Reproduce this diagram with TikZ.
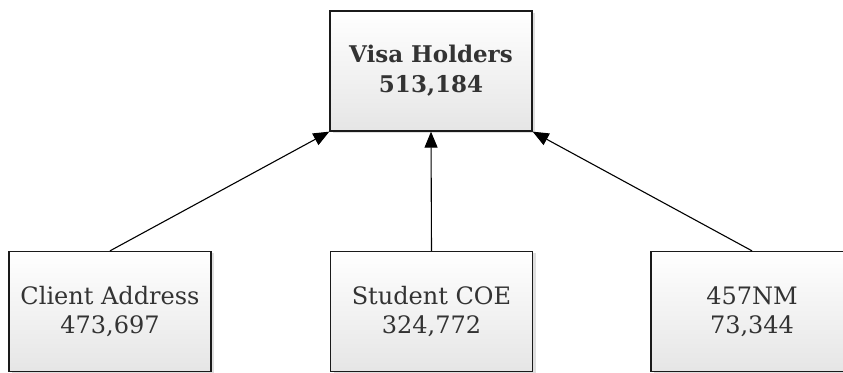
\documentclass[tikz,border=0pt]{standalone}
\usepackage{fontspec}
\setmainfont{DejaVu Serif}
\usetikzlibrary{arrows.meta,shadows}
\definecolor{txt}{HTML}{333333}
\definecolor{edge}{HTML}{1A1A1A}
\tikzset{
  box/.style={draw=edge, line width=1.3pt, top color=white, bottom color=black!10,
    minimum width=202pt, minimum height=120pt, inner sep=0pt, align=center,
    text=txt, font=\fontsize{24}{29}\selectfont,
    drop shadow={shadow xshift=3pt, shadow yshift=-2pt, opacity=0.25, fill=black!50}},
  topbox/.style={box, font=\fontsize{23}{30}\selectfont\bfseries},
  link/.style={draw=black, line width=1.1pt, -{Triangle[length=16pt,width=13pt]}}
}
\begin{document}
\begin{tikzpicture}[x=1pt,y=1pt]
\useasboundingbox (0,0) rectangle (843,372);
\node[topbox] (top) at (431,301) {Visa Holders\\513,184};
\node[box] (client) at (110,60.5) {Client Address\\473,697};
\node[box] (student) at (431.5,60.5) {Student COE\\324,772};
\node[box] (nm) at (752,60.5) {457NM\\73,344};
\draw[link] (client.north) -- (top.south west);
\draw[link] (student.north) -- (top.south);
\draw[link] (nm.north) -- (top.south east);
\end{tikzpicture}
\end{document}
